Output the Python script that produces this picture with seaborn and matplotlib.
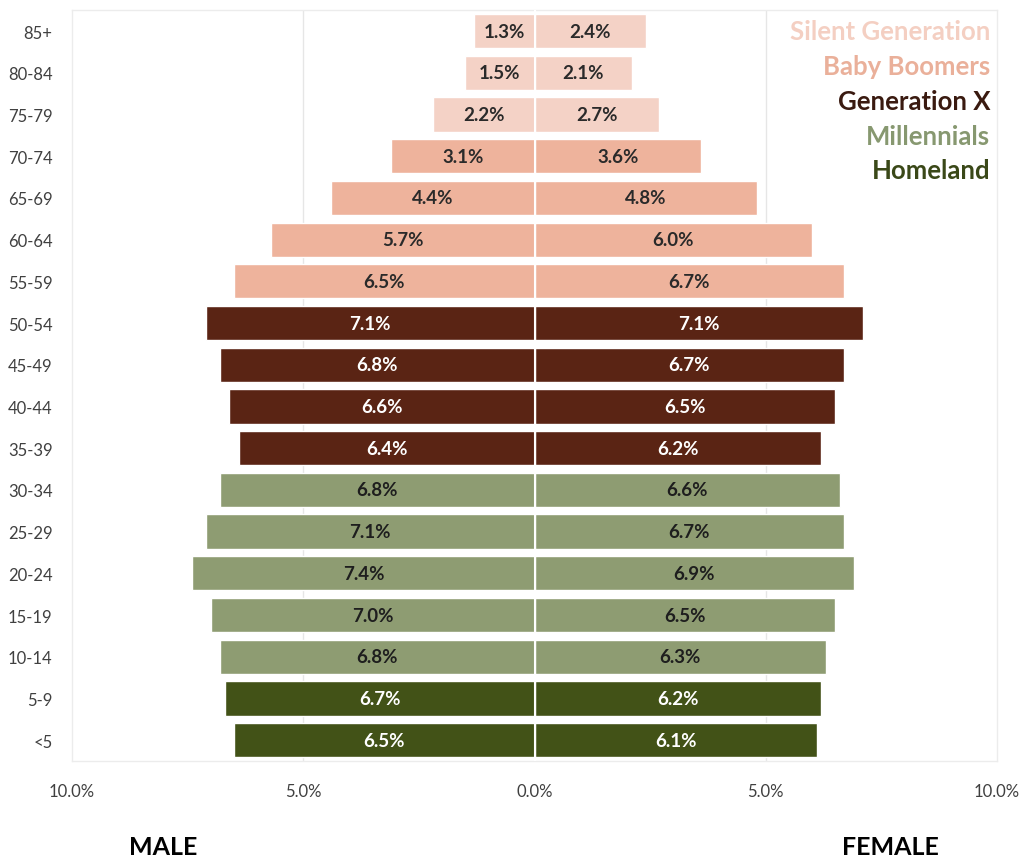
import matplotlib
matplotlib.use("Agg")
import matplotlib.pyplot as plt
import seaborn as sns
import pandas as pd
import numpy as np

ages = ["85+", "80-84", "75-79", "70-74", "65-69", "60-64", "55-59", "50-54", "45-49",
        "40-44", "35-39", "30-34", "25-29", "20-24", "15-19", "10-14", "5-9", "<5"]
male = [1.3, 1.5, 2.2, 3.1, 4.4, 5.7, 6.5, 7.1, 6.8, 6.6, 6.4, 6.8, 7.1, 7.4, 7.0, 6.8, 6.7, 6.5]
female = [2.4, 2.1, 2.7, 3.6, 4.8, 6.0, 6.7, 7.1, 6.7, 6.5, 6.2, 6.6, 6.7, 6.9, 6.5, 6.3, 6.2, 6.1]
generation = ["Silent Generation"] * 3 + ["Baby Boomers"] * 4 + ["Generation X"] * 4 + \
             ["Millennials"] * 5 + ["Homeland"] * 2
gen_names = ["Silent Generation", "Baby Boomers", "Generation X", "Millennials", "Homeland"]
bar_colors = {"Silent Generation": "#f4d2c6", "Baby Boomers": "#eeb39c",
              "Generation X": "#5a2414", "Millennials": "#8e9c72", "Homeland": "#425217"}
legend_colors = {"Silent Generation": "#f4cfc2", "Baby Boomers": "#eab09a",
                 "Generation X": "#3a1a10", "Millennials": "#879870", "Homeland": "#3a4818"}
label_colors = {"Silent Generation": "#2a2a2a", "Baby Boomers": "#2a2a2a",
                "Generation X": "white", "Millennials": "#1e1e1e", "Homeland": "white"}
xticks = [-10, -5, 0, 5, 10]
xticklabels = ["10.0%", "5.0%", "0.0%", "5.0%", "10.0%"]

sns.set_theme(style="white")
plt.rcParams["font.family"] = ["Lato", "DejaVu Sans"]

df_m = pd.DataFrame({"age": ages, "value": [-v for v in male], "gen": generation})
df_f = pd.DataFrame({"age": ages, "value": female, "gen": generation})

fig = plt.figure(figsize=(10.23, 8.62), dpi=100)
ax = fig.add_axes([0.0704, 0.116, 0.9042, 0.871])

for df in (df_m, df_f):
    sns.barplot(data=df, x="value", y="age", hue="gen", hue_order=gen_names,
                palette=bar_colors, dodge=False, width=0.82, orient="h",
                order=ages, ax=ax, legend=False, saturation=1)

ax.set_xlim(-10, 10)
ax.set_ylim(len(ages) - 0.5, -0.5)
ax.set_xticks(xticks)
ax.set_xticklabels(xticklabels)
ax.set_xlabel("")
ax.set_ylabel("")
ax.tick_params(axis="x", labelsize=12, colors="#404040", pad=16, length=0)
ax.tick_params(axis="y", labelsize=12, colors="#404040", pad=14, length=0)

for x in (-5, 5):
    ax.axvline(x, color="#e6e6e6", lw=1, zorder=0)
ax.axvline(0, color="white", lw=1.5, zorder=5)
for s in ax.spines.values():
    s.set_color("#ececec")
    s.set_linewidth(1)

for i, (m, f, g) in enumerate(zip(male, female, generation)):
    c = label_colors[g]
    ax.text(-m / 2, i, f"{m:.1f}%", ha="center", va="center", fontsize=13.5,
            fontweight="bold", color=c, zorder=6)
    ax.text(f / 2, i, f"{f:.1f}%", ha="center", va="center", fontsize=13.5,
            fontweight="bold", color=c, zorder=6)

for k, g in enumerate(gen_names):
    ax.text(9.85, 0.0 + k * 0.835, g, ha="right", va="center", fontsize=18.5,
            fontweight="bold", color=legend_colors[g], zorder=7)

fig.text(163 / 1023, 1 - 848 / 862, "MALE", ha="center", va="center",
         fontsize=18, fontweight="bold", color="black")
fig.text(890 / 1023, 1 - 848 / 862, "FEMALE", ha="center", va="center",
         fontsize=18, fontweight="bold", color="black")

fig.savefig("out.png", dpi=100, facecolor="white")
